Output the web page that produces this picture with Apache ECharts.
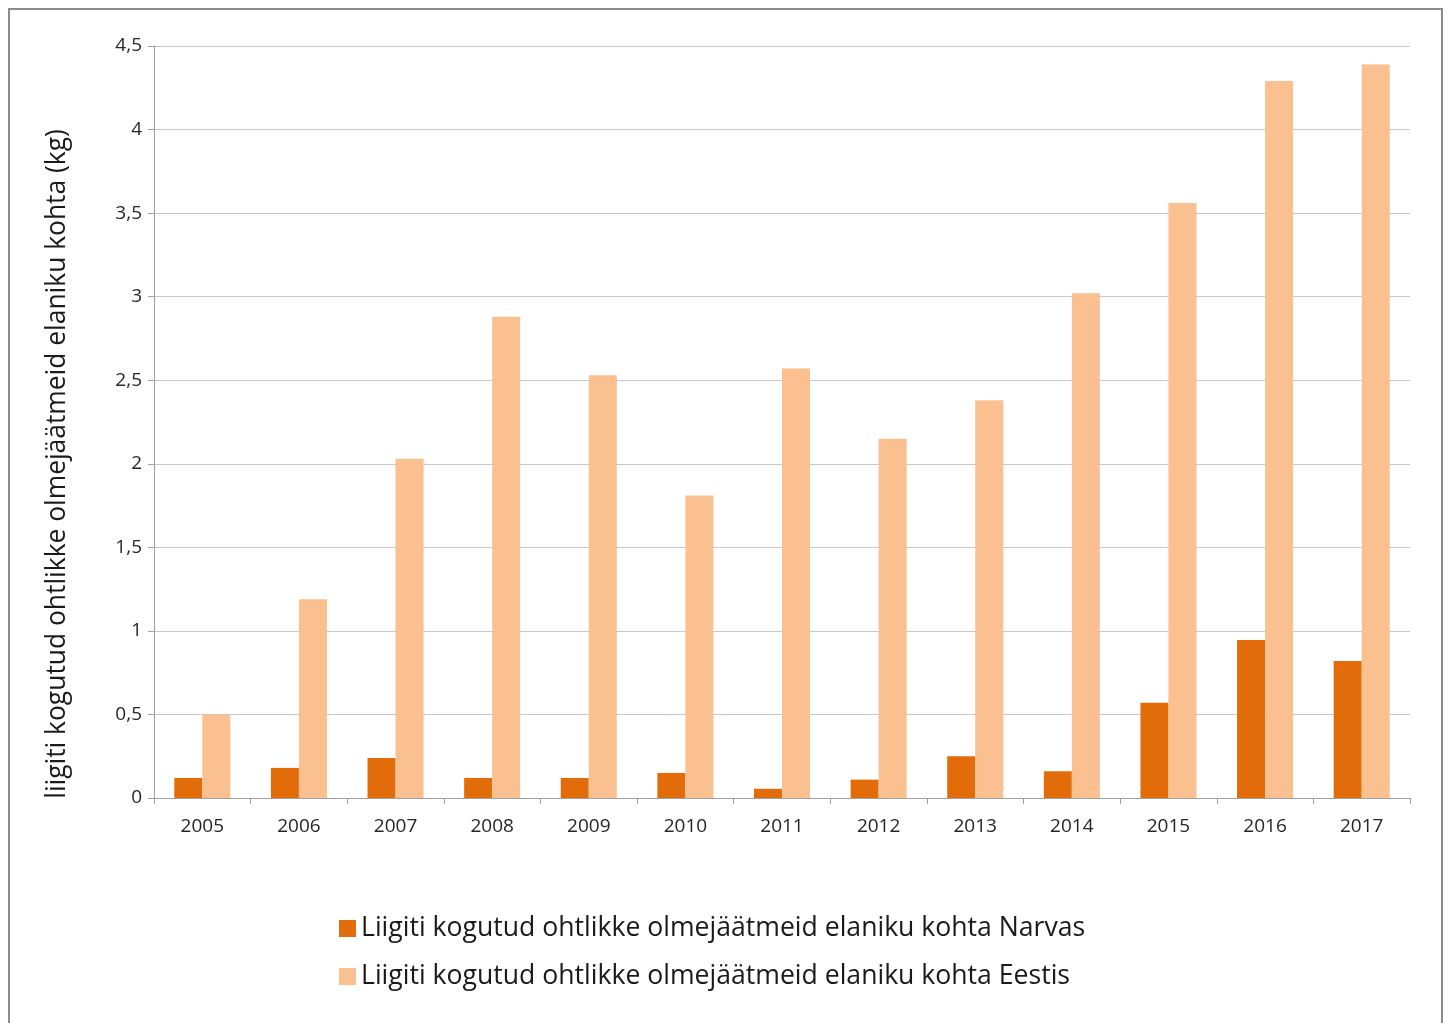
<!DOCTYPE html>
<html><head><meta charset="utf-8">
<script src="https://cdn.jsdelivr.net/npm/echarts@6/dist/echarts.min.js"></script>
<style>html,body{margin:0;padding:0;background:#fff}#c{width:1449px;height:1023px}</style>
</head><body><div id="c"></div>
<script>
const years = ['2005','2006','2007','2008','2009','2010','2011','2012','2013','2014','2015','2016','2017'];
const narva = [0.12,0.18,0.24,0.12,0.12,0.15,0.055,0.11,0.25,0.16,0.57,0.945,0.82];
const eesti = [0.50,1.19,2.03,2.88,2.53,1.81,2.57,2.15,2.38,3.02,3.56,4.29,4.39];
const yTicks = {min:0, max:4.5, interval:0.5};
const nameNarva = 'Liigiti kogutud ohtlikke olmejäätmeid elaniku kohta Narvas';
const nameEesti = 'Liigiti kogutud ohtlikke olmejäätmeid elaniku kohta Eestis';
const yTitle = 'liigiti kogutud ohtlikke olmejäätmeid elaniku kohta (kg)';

const chart = echarts.init(document.getElementById('c'));
const font = '"Open Sans", "Noto Sans", sans-serif';
chart.setOption({
  animation:false,
  backgroundColor:'#fff',
  textStyle:{fontFamily:font},
  graphic:[
    {type:'rect',shape:{x:9,y:9,width:1433,height:1100},style:{fill:'none',stroke:'#8c8c8c',lineWidth:2},silent:true},
    {type:'text',x:57,y:464,rotation:Math.PI/2,silent:true,
     style:{text:yTitle,fontSize:26.4,fontFamily:font,fill:'#1a1a1a',align:'center',verticalAlign:'middle'}}
  ],
  grid:{left:154,right:39,top:46,bottom:225,containLabel:false},
  legend:{
    orient:'vertical', left:334, top:910, itemWidth:17, itemHeight:17, itemGap:21,
    icon:'rect',
    textStyle:{fontSize:26.6,lineHeight:26,color:'#1a1a1a',fontFamily:font},
    data:[nameNarva,nameEesti]
  },
  xAxis:{
    type:'category', data:years,
    axisLine:{lineStyle:{color:'#a0a0a0',width:1}},
    axisTick:{show:true,length:6,lineStyle:{color:'#a0a0a0'}},
    axisLabel:{fontSize:19,color:'#262626',margin:19,fontFamily:font}
  },
  yAxis:{
    type:'value', min:yTicks.min, max:yTicks.max, interval:yTicks.interval,
    axisLine:{show:true,lineStyle:{color:'#a0a0a0'}},
    axisTick:{show:true,length:6,lineStyle:{color:'#a0a0a0'}},
    splitLine:{lineStyle:{color:'#c8c8c8'}},
    axisLabel:{fontSize:19,color:'#262626',margin:12,fontFamily:font,
      formatter:v=>String(v).replace('.',',')}
  },
  series:[
    {name:nameNarva,type:'bar',data:narva,itemStyle:{color:'#E36C0A'},barGap:'0%',barCategoryGap:'42%'},
    {name:nameEesti,type:'bar',data:eesti,itemStyle:{color:'#FAC090'},barGap:'0%',barCategoryGap:'42%'}
  ]
});
</script></body></html>
